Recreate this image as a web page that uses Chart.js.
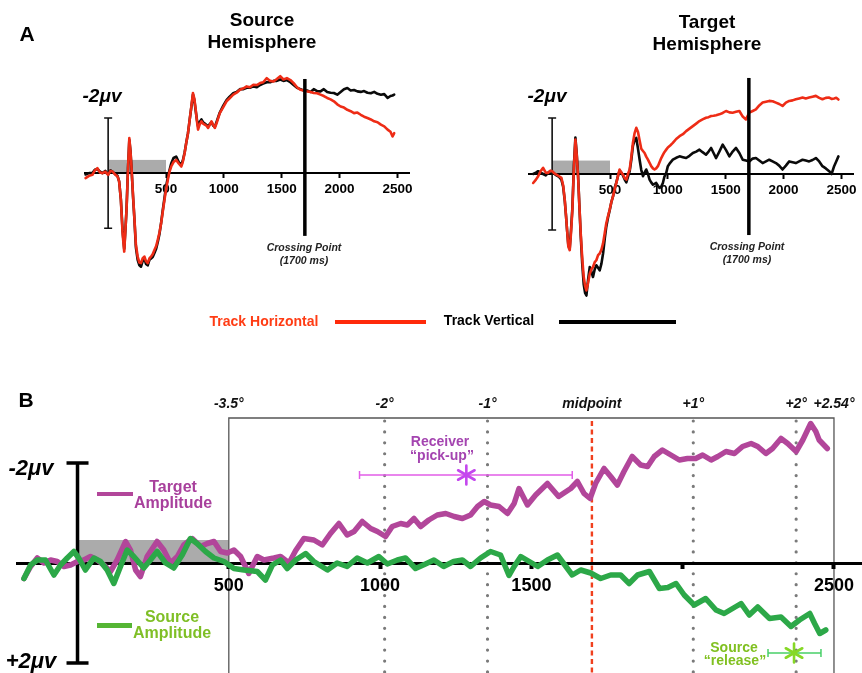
<!DOCTYPE html>
<html><head><meta charset="utf-8"><title>ERP crossing figure</title>
<script src="https://cdn.jsdelivr.net/npm/chart.js@4.4.1/dist/chart.umd.min.js"></script>
<style>
html,body{margin:0;padding:0;background:#fff;}
#wrap{position:relative;width:862px;height:673px;overflow:hidden;font-family:"Liberation Sans",Arial,Helvetica,sans-serif;color:#000;}
#wrap canvas{position:absolute;left:0;top:0;}
.t{position:absolute;white-space:nowrap;transform:translate(-50%,-50%);font-weight:bold;line-height:1;}
.i{font-style:italic;}
.sw{position:absolute;}
</style></head><body>
<div id="wrap">
<canvas id="cA1" width="862" height="673"></canvas>
<canvas id="cA2" width="862" height="673"></canvas>
<canvas id="cB" width="862" height="673"></canvas>

<div class="t" style="left:27px;top:33px;font-size:21px">A</div>
<div class="t" style="left:262px;top:19px;font-size:19px">Source</div>
<div class="t" style="left:262px;top:41px;font-size:19px">Hemisphere</div>
<div class="t" style="left:707px;top:21px;font-size:19px">Target</div>
<div class="t" style="left:707px;top:43px;font-size:19px">Hemisphere</div>
<div class="t i" style="left:102px;top:95px;font-size:19px">-2μv</div>
<div class="t i" style="left:547px;top:95px;font-size:19px">-2μv</div>
<div class="t i" style="left:304px;top:247px;font-size:10.5px;color:#222">Crossing Point</div>
<div class="t i" style="left:304px;top:260px;font-size:10.5px;color:#222">(1700 ms)</div>
<div class="t i" style="left:747px;top:246px;font-size:10.5px;color:#222">Crossing Point</div>
<div class="t i" style="left:747px;top:259px;font-size:10.5px;color:#222">(1700 ms)</div>
<div class="t" style="left:264px;top:321px;font-size:14px;color:#ff3c14">Track Horizontal</div>
<div class="sw" style="left:335px;top:320px;width:91px;height:4px;background:#ff2a0a"></div>
<div class="t" style="left:489px;top:320px;font-size:14px;color:#000">Track Vertical</div>
<div class="sw" style="left:559px;top:320px;width:117px;height:4px;background:#000"></div>

<div class="t" style="left:26px;top:399px;font-size:21px">B</div>
<div class="t i" style="left:31px;top:468px;font-size:22px">-2μv</div>
<div class="t i" style="left:31px;top:661px;font-size:22px">+2μv</div>
<div class="sw" style="left:97px;top:492px;width:36px;height:4px;background:#b2469a"></div>
<div class="t" style="left:173px;top:487px;font-size:16px;color:#a8409c">Target</div>
<div class="t" style="left:173px;top:503px;font-size:16px;color:#a8409c">Amplitude</div>
<div class="sw" style="left:97px;top:623px;width:35px;height:5px;background:#55b534"></div>
<div class="t" style="left:172px;top:617px;font-size:16px;color:#7fbf26">Source</div>
<div class="t" style="left:172px;top:633px;font-size:16px;color:#7fbf26">Amplitude</div>
<div class="t" style="left:440px;top:441px;font-size:14px;color:#a444b0">Receiver</div>
<div class="t" style="left:442px;top:455px;font-size:14px;color:#a444b0">“pick-up”</div>
<div class="t" style="left:734px;top:647px;font-size:14px;color:#80c020">Source</div>
<div class="t" style="left:735px;top:660px;font-size:14px;color:#80c020">“release”</div>
</div>
<script>
// ---------------- DATA ----------------
// Panel A, Source hemisphere (time in ms, amplitude in microvolts; negative plotted up)
const srcTime = [
 -195,-165,-136,-115,-93,-70,-49,-25,0,20,
 38,60,81,95,110,125,139,150,159,172,
 183,193,203,215,226,240,255,270,284,298,
 313,327,342,357,371,385,400,415,429,444,
 458,472,487,500,516,530,545,565,588,610,
 632,645,661,675,690,705,719,733,745,757,
 767,777,790,806,820,835,850,864,878,893,
 908,922,940,965,995,1023,1050,1081,1110,1139,
 1170,1197,1225,1255,1285,1313,1340,1371,1400,1429,
 1458,1487,1515,1545,1575,1603,1632,1661,1690,1719,
 1748,1777,1806,1835,1864,1893,1922,1951,1980,2009,
 2038,2067,2096,2125,2154,2183,2212,2241,2270,2299,
 2328,2357,2386,2415,2440,2458,2472];
const srcHorizontal = [
 0.18,0.1,0.06,-0.1,-0.18,-0.02,0,-0.05,0.06,-0.08,
 -0.06,0.05,0.12,0.3,0.97,2.2,2.85,2.0,1.33,-0.2,
 -1.27,-0.8,-0.12,0.8,1.58,2.6,3.03,3.25,3.27,3.1,
 3.03,3.2,3.27,3.1,3.03,2.95,2.79,2.65,2.42,2.15,
 1.82,1.4,0.97,0.6,0.24,-0.05,-0.24,-0.4,-0.48,-0.35,
 -0.24,-0.4,-0.73,-1.1,-1.45,-1.95,-2.42,-2.91,-2.7,-2.3,
 -1.9,-1.58,-1.75,-1.88,-1.8,-1.76,-1.72,-1.64,-1.75,-1.88,
 -1.75,-1.64,-1.85,-2.18,-2.4,-2.61,-2.72,-2.85,-2.92,-3.03,
 -3.08,-3.15,-3.12,-3.21,-3.2,-3.27,-3.3,-3.45,-3.35,-3.33,
 -3.42,-3.52,-3.4,-3.45,-3.38,-3.27,-3.12,-3.03,-3.0,-2.97,
 -2.95,-2.91,-2.9,-2.85,-2.8,-2.73,-2.68,-2.61,-2.5,-2.42,
 -2.38,-2.3,-2.25,-2.18,-2.2,-2.12,-2.05,-2.0,-1.95,-1.88,
 -1.85,-1.76,-1.7,-1.58,-1.5,-1.33,-1.45];
const srcVertical = [
 0.05,0,0,-0.12,-0.15,-0.05,0,-0.08,0.05,-0.1,
 -0.05,0.03,0.1,0.3,0.95,2.1,2.75,2.0,1.3,-0.2,
 -1.2,-0.8,-0.1,0.85,1.6,2.7,3.15,3.35,3.4,3.2,
 3.1,3.3,3.35,3.15,3.1,3.05,2.9,2.75,2.5,2.2,
 1.8,1.35,0.9,0.5,0.15,-0.1,-0.35,-0.55,-0.6,-0.4,
 -0.3,-0.45,-0.75,-1.1,-1.45,-1.95,-2.4,-2.85,-2.65,-2.25,
 -1.95,-1.7,-1.85,-1.95,-1.85,-1.8,-1.75,-1.7,-1.78,-1.85,
 -1.72,-1.68,-1.9,-2.2,-2.45,-2.65,-2.78,-2.9,-2.95,-3.05,
 -3.05,-3.1,-3.1,-3.15,-3.12,-3.2,-3.25,-3.3,-3.3,-3.35,
 -3.35,-3.4,-3.35,-3.38,-3.3,-3.2,-3.1,-3.05,-3.0,-3.0,
 -2.95,-3.05,-2.98,-2.97,-3.05,-2.95,-2.92,-2.91,-2.85,-2.95,
 -3.05,-3.09,-3.0,-3.02,-2.97,-2.95,-2.98,-2.92,-2.9,-2.95,
 -2.88,-2.85,-2.87,-2.73,-2.8,-2.82,-2.85];

// Panel A, Target hemisphere
const tgtTime = [
 -164,-140,-121,-100,-78,-55,-34,-15,0,20,
 37,60,80,95,109,120,129,140,152,163,
 175,188,201,212,224,235,247,260,273,285,
 296,310,325,340,353,368,382,397,411,426,
 440,455,468,483,497,512,526,540,555,570,
 583,598,612,627,641,655,670,684,698,712,
 727,742,756,770,785,799,813,828,842,856,
 871,885,899,914,928,943,957,970,986,1000,
 1020,1043,1072,1101,1130,1158,1187,1216,1245,1273,
 1300,1330,1352,1374,1395,1417,1445,1474,1503,1532,
 1560,1589,1618,1647,1675,1704,1733,1761,1790,1819,
 1848,1876,1905,1934,1962,1991,2020,2049,2078,2106,
 2135,2164,2192,2221,2250,2279,2308,2336,2365,2394,
 2415,2437,2455,2474];
const tgtHorizontal = [
 0.32,0.2,0.08,-0.1,-0.22,-0.05,-0.04,-0.12,-0.1,-0.02,
 0.02,0.08,0.14,0.4,0.92,1.5,2.0,2.6,2.72,2.1,
 1.28,-0.2,-1.23,-0.7,0.08,1.1,2.12,3.0,3.68,4.0,
 4.16,3.9,3.56,3.4,3.32,3.15,3.08,2.9,2.84,2.7,
 2.48,2.1,1.76,1.5,1.28,1.0,0.8,0.55,0.32,0.05,
 -0.16,-0.05,0.02,0.15,0.2,0,-0.16,-0.6,-1.11,-1.45,
 -1.65,-1.5,-1.2,-0.9,-0.82,-0.75,-0.62,-0.51,-0.4,-0.28,
 -0.2,-0.16,-0.2,-0.28,-0.42,-0.57,-0.68,-0.78,-0.87,-0.95,
 -1.02,-1.11,-1.25,-1.35,-1.42,-1.53,-1.62,-1.71,-1.8,-1.89,
 -1.95,-2.01,-2.03,-2.07,-2.08,-2.1,-2.13,-2.18,-2.25,-2.2,
 -2.19,-2.22,-2.25,-2.05,-1.95,-2.19,-2.25,-2.31,-2.45,-2.55,
 -2.58,-2.61,-2.6,-2.55,-2.5,-2.43,-2.55,-2.61,-2.63,-2.67,
 -2.7,-2.73,-2.7,-2.73,-2.76,-2.79,-2.72,-2.67,-2.72,-2.73,
 -2.68,-2.7,-2.72,-2.66];
const tgtVertical = [
 0,-0.05,-0.1,-0.05,0,0.05,-0.05,-0.1,-0.08,0,
 0.05,0.1,0.2,0.45,0.95,1.5,2.0,2.55,2.65,2.0,
 1.2,-0.3,-1.3,-0.75,0.05,1.1,2.2,3.2,3.95,4.25,
 4.34,3.8,3.32,3.5,3.68,3.4,3.26,3.35,3.44,3.2,
 2.84,2.3,1.88,1.55,1.3,1.0,0.8,0.5,0.3,0.05,
 -0.12,-0.05,0.05,0.2,0.3,0.1,-0.1,-0.5,-1.0,-1.2,
 -1.29,-0.9,-0.51,-0.15,0.08,-0.05,-0.16,0,0.2,0.3,
 0.38,0.35,0.32,0.42,0.5,0.45,0.32,0.1,-0.04,-0.28,
 -0.4,-0.51,-0.58,-0.63,-0.6,-0.57,-0.65,-0.75,-0.8,-0.87,
 -0.78,-0.69,-0.8,-0.93,-0.75,-0.57,-0.8,-1.05,-0.85,-0.63,
 -0.8,-0.93,-0.75,-0.51,-0.48,-0.45,-0.55,-0.57,-0.48,-0.39,
 -0.45,-0.51,-0.45,-0.39,-0.3,-0.16,-0.3,-0.45,-0.42,-0.39,
 -0.45,-0.51,-0.48,-0.45,-0.5,-0.57,-0.45,-0.28,-0.2,-0.1,
 0,-0.28,-0.45,-0.63];

// Panel A annotations
const aTickValues = [500, 1000, 1500, 2000, 2500];
const aTickLabels = ['500', '1000', '1500', '2000', '2500'];
const crossingTime = 1700;
const crossSpanSource = [-3.42, 2.28];
const crossSpanTarget = [-3.43, 2.18];
const baselineWindow = [0, 500];
const baselineDepthA = -0.48;
const scaleBar = [-2, 2];

// Panel B, amplitude difference waves
const targetAmpTime = [
 -177,-155,-133,-111,-89,-67,-45,-23,0,21,
 43,65,87,109,131,159,175,192,208,230,
 263,285,307,330,351,379,407,429,451,473,
 495,517,539,566,594,616,649,671,699,721,
 748,781,809,836,864,891,914,941,969,991,
 1018,1040,1068,1090,1112,1134,1161,1189,1217,1245,
 1272,1299,1322,1344,1365,1393,1421,1443,1459,1487,
 1514,1553,1590,1630,1652,1674,1694,1712,1740,1762,
 1784,1806,1833,1861,1884,1906,1933,1961,1989,2016,
 2043,2066,2094,2116,2143,2171,2198,2226,2248,2275,
 2297,2325,2347,2375,2397,2423,2440,2451,2478];
const targetAmp = [
 0.31,0.07,-0.1,0,-0.06,-0.03,0.07,0.04,-0.03,-0.06,
 -0.13,-0.06,0.04,0.17,-0.06,-0.43,-0.26,0.14,0.27,-0.13,
 -0.43,-0.26,0,-0.13,-0.36,-0.49,-0.33,-0.39,-0.43,-0.23,
 -0.2,-0.26,-0.13,0.21,-0.13,-0.06,-0.1,-0.13,0,-0.25,
 -0.49,-0.46,-0.36,-0.59,-0.79,-0.56,-0.63,-0.83,-0.69,-0.63,
 -0.53,-0.73,-0.79,-0.76,-0.89,-0.73,-0.86,-0.96,-0.99,-0.93,
 -0.89,-0.96,-1.13,-1.23,-1.16,-1.13,-0.99,-1.19,-1.49,-1.16,
 -1.36,-1.59,-1.33,-1.49,-1.63,-1.39,-1.29,-1.59,-1.89,-1.73,
 -1.56,-1.83,-2.13,-1.96,-1.93,-2.13,-2.26,-2.16,-2.06,-2.09,
 -2.09,-2.16,-2.06,-2.13,-2.23,-2.19,-2.33,-2.39,-2.33,-2.19,
 -2.29,-2.49,-2.39,-2.23,-2.46,-2.79,-2.63,-2.46,-2.29];
const sourceAmpTime = [
 -177,-155,-133,-106,-78,-56,-34,-12,4,26,
 54,76,98,120,142,164,186,219,241,263,
 291,318,346,373,395,423,451,484,517,550,
 594,621,644,671,693,721,754,781,826,858,
 891,924,958,996,1024,1057,1084,1117,1150,1178,
 1210,1243,1272,1299,1332,1365,1398,1426,1443,1465,
 1493,1521,1553,1586,1608,1635,1663,1696,1729,1762,
 1795,1823,1851,1890,1923,1951,1978,2005,2038,2076,
 2110,2137,2165,2193,2220,2248,2287,2325,2358,2386,
 2420,2436,2453,2473];
const sourceAmp = [
 0.31,0.04,-0.06,-0.06,0.24,0.04,-0.1,-0.23,-0.1,0.14,
 -0.1,-0.03,0.14,0.41,0.07,-0.26,-0.13,0.1,-0.06,-0.23,
 0,0.1,-0.16,-0.49,-0.39,-0.23,-0.1,-0.03,0.11,0.14,
 0.17,0.34,0.04,-0.06,0.11,-0.06,-0.19,-0.03,0.14,0,
 0.07,-0.1,0,-0.13,0.02,-0.06,-0.1,0.11,0.02,-0.06,
 0.07,-0.03,-0.06,0.07,-0.1,-0.23,-0.16,0.25,0.07,-0.13,
 -0.03,0.07,-0.06,-0.16,0.02,0.24,0.14,0.2,0.31,0.24,
 0.24,0.41,0.24,0.17,0.51,0.49,0.41,0.64,0.84,0.71,
 0.94,1.01,0.91,0.81,1.04,0.88,1.11,1.08,1.27,1.14,
 1.01,1.21,1.41,1.34];

// Panel B annotations
const bTickValues = [500, 1000, 1500, 2000, 2500];
const bTickLabels = ['500', '1000', '1500', '', '2500'];
const degreeTimes = [500, 1015, 1355, 1700, 2035, 2375, 2500];
const degreeLabels = ['-3.5°', '-2°', '-1°', 'midpoint', '+1°', '+2°', '+2.54°'];
const frameTop = -2.9;
const baselineDepthB = -0.46;
const pickupStats = [932, 1285, 1635];   // lower, estimate, upper (ms)
const pickupLevel = -1.76;
const releaseStats = [2282, 2368, 2457];
const releaseLevel = 1.8;

// ---------------- CHARTS ----------------
const FONT = '"Liberation Sans", Arial, Helvetica, sans-serif';
const RED = '#ee2c16', BLACK = '#0a0a0a', PURPLE = '#b2469a', GREEN = '#2ca848';

function pts(ts, vs) { return ts.map((t, i) => ({x: t, y: vs[i]})); }
function lineDs(label, ts, vs, color, w) {
  return {label, data: pts(ts, vs), borderColor: color, backgroundColor: color, borderWidth: w,
    pointRadius: 0, pointHoverRadius: 0, tension: 0, fill: false, clip: false,
    borderJoinStyle: 'round', borderCapStyle: 'round'};
}

const panelAPlugin = {
  id: 'panelA',
  beforeDraw(chart) {
    const {ctx} = chart, xs = chart.scales.x, ys = chart.scales.y;
    ctx.save();
    ctx.fillStyle = '#ababab';
    const x0 = xs.getPixelForValue(baselineWindow[0]), x1 = xs.getPixelForValue(baselineWindow[1]);
    const y0 = ys.getPixelForValue(baselineDepthA), y1 = ys.getPixelForValue(0);
    ctx.fillRect(x0, y0, x1 - x0, y1 - y0);
    ctx.restore();
  },
  beforeDatasetsDraw(chart) {
    const {ctx} = chart, xs = chart.scales.x, ys = chart.scales.y;
    ctx.save();
    const sx = xs.getPixelForValue(0);
    const st = ys.getPixelForValue(scaleBar[0]), sb = ys.getPixelForValue(scaleBar[1]);
    ctx.strokeStyle = '#111'; ctx.lineWidth = 1.6;
    ctx.beginPath();
    ctx.moveTo(sx, st); ctx.lineTo(sx, sb);
    ctx.moveTo(sx - 4, st); ctx.lineTo(sx + 4, st);
    ctx.moveTo(sx - 4, sb); ctx.lineTo(sx + 4, sb);
    ctx.stroke();
    ctx.restore();
  },
  afterDatasetsDraw(chart, args, opts) {
    const {ctx} = chart, xs = chart.scales.x, ys = chart.scales.y;
    ctx.save();
    ctx.strokeStyle = '#000'; ctx.lineWidth = 3.5;
    const cx = xs.getPixelForValue(crossingTime);
    ctx.beginPath();
    ctx.moveTo(cx, ys.getPixelForValue(opts.span[0]));
    ctx.lineTo(cx, ys.getPixelForValue(opts.span[1]));
    ctx.stroke();
    ctx.restore();
  }
};

function xAxisA() {
  return {
    type: 'linear', min: -200, max: 2600, position: {y: 0},
    afterFit: s => { s.height = 0; },
    afterBuildTicks: s => { s.ticks = aTickValues.map(v => ({value: v})); },
    border: {display: true, color: '#000', width: 2},
    grid: {display: true, drawOnChartArea: false, drawTicks: true, tickLength: 4, tickWidth: 2, tickColor: '#000'},
    ticks: {autoSkip: false, maxRotation: 0, padding: 4, color: '#000',
      font: {family: FONT, size: 13.5, weight: 'bold'}, callback: (v, i) => aTickLabels[i]}
  };
}

function makeA(id, pad, ts, hv, vv, span) {
  return new Chart(document.getElementById(id), {
    type: 'line',
    data: {datasets: [lineDs('Track Horizontal', ts, hv, RED, 2.6), lineDs('Track Vertical', ts, vv, BLACK, 2.6)]},
    options: {
      responsive: false, animation: false, events: [],
      layout: {padding: pad},
      plugins: {legend: {display: false}, tooltip: {enabled: false}, title: {display: false}, panelA: {span}},
      scales: {x: xAxisA(), y: {type: 'linear', min: -4, max: 4.5, reverse: true, display: false}}
    },
    plugins: [panelAPlugin]
  });
}

makeA('cA1', {left: 85, top: 63, right: 453, bottom: 376}, srcTime, srcHorizontal, srcVertical, crossSpanSource);
makeA('cA2', {left: 529, top: 62, right: 9, bottom: 373}, tgtTime, tgtHorizontal, tgtVertical, crossSpanTarget);

function asterisk(ctx, x, y, r, color, lw) {
  ctx.strokeStyle = color; ctx.lineWidth = lw; ctx.lineCap = 'round';
  ctx.beginPath();
  for (let k = 0; k < 3; k++) {
    const a = Math.PI / 2 + k * Math.PI / 3;
    ctx.moveTo(x + r * Math.cos(a), y + r * Math.sin(a));
    ctx.lineTo(x - r * Math.cos(a), y - r * Math.sin(a));
  }
  ctx.stroke();
}
function errBar(ctx, x0, x1, y, cap, color, lw) {
  ctx.strokeStyle = color; ctx.lineWidth = lw; ctx.lineCap = 'butt';
  ctx.beginPath();
  ctx.moveTo(x0, y); ctx.lineTo(x1, y);
  ctx.moveTo(x0, y - cap); ctx.lineTo(x0, y + cap);
  ctx.moveTo(x1, y - cap); ctx.lineTo(x1, y + cap);
  ctx.stroke();
}

const panelBPlugin = {
  id: 'panelB',
  beforeDraw(chart) {
    const {ctx, chartArea} = chart, xs = chart.scales.x, ys = chart.scales.y;
    ctx.save();
    // baseline window
    const bx0 = xs.getPixelForValue(baselineWindow[0]), bx1 = xs.getPixelForValue(baselineWindow[1]);
    const by0 = ys.getPixelForValue(baselineDepthB), by1 = ys.getPixelForValue(0);
    ctx.fillStyle = '#ababab';
    ctx.fillRect(bx0, by0, bx1 - bx0, by1 - by0);
    // frame
    const fTop = ys.getPixelForValue(frameTop);
    const fx0 = xs.getPixelForValue(degreeTimes[0]), fx1 = xs.getPixelForValue(degreeTimes[degreeTimes.length - 1]);
    ctx.strokeStyle = '#555'; ctx.lineWidth = 1.3;
    ctx.beginPath();
    ctx.moveTo(fx0, chartArea.bottom + 2); ctx.lineTo(fx0, fTop); ctx.lineTo(fx1, fTop); ctx.lineTo(fx1, chartArea.bottom + 2);
    ctx.stroke();
    // position lines
    for (let i = 1; i < degreeTimes.length - 1; i++) {
      const px = xs.getPixelForValue(degreeTimes[i]);
      ctx.beginPath();
      if (degreeLabels[i] === 'midpoint') {
        ctx.strokeStyle = '#f0401e'; ctx.lineWidth = 2.4; ctx.lineCap = 'butt'; ctx.setLineDash([5, 3.5]);
      } else {
        ctx.strokeStyle = '#7a7a7a'; ctx.lineWidth = 3.2; ctx.lineCap = 'round'; ctx.setLineDash([0.01, 10.9]);
      }
      ctx.moveTo(px, fTop + 3); ctx.lineTo(px, chartArea.bottom);
      ctx.stroke();
    }
    ctx.restore();
  },
  beforeDatasetsDraw(chart) {
    const {ctx} = chart, xs = chart.scales.x, ys = chart.scales.y;
    ctx.save();
    const sx = xs.getPixelForValue(0);
    const st = ys.getPixelForValue(scaleBar[0]), sb = ys.getPixelForValue(scaleBar[1]);
    ctx.strokeStyle = '#000'; ctx.lineWidth = 3.5;
    ctx.beginPath();
    ctx.moveTo(sx, st); ctx.lineTo(sx, sb);
    ctx.moveTo(sx - 11, st); ctx.lineTo(sx + 11, st);
    ctx.moveTo(sx - 11, sb); ctx.lineTo(sx + 11, sb);
    ctx.stroke();
    ctx.restore();
  },
  afterDatasetsDraw(chart) {
    const {ctx, chartArea} = chart, xs = chart.scales.x, ys = chart.scales.y;
    ctx.save();
    // position labels
    ctx.fillStyle = '#111';
    ctx.font = 'italic bold 14px ' + FONT;
    ctx.textAlign = 'center'; ctx.textBaseline = 'middle';
    degreeTimes.forEach((t, i) => {
      ctx.fillText(degreeLabels[i], xs.getPixelForValue(t), chartArea.top + 1);
    });
    // receiver pick-up
    const py = ys.getPixelForValue(pickupLevel);
    errBar(ctx, xs.getPixelForValue(pickupStats[0]), xs.getPixelForValue(pickupStats[2]), py, 4, '#e25ee8', 1.5);
    asterisk(ctx, xs.getPixelForValue(pickupStats[1]), py, 9.5, '#c447ee', 2.6);
    // source release
    const ry = ys.getPixelForValue(releaseLevel);
    errBar(ctx, xs.getPixelForValue(releaseStats[0]), xs.getPixelForValue(releaseStats[2]), ry, 4, '#48d068', 1.5);
    asterisk(ctx, xs.getPixelForValue(releaseStats[1]), ry, 9.5, '#86d826', 2.6);
    ctx.restore();
  }
};

new Chart(document.getElementById('cB'), {
  type: 'line',
  data: {datasets: [
    lineDs('Source Amplitude', sourceAmpTime, sourceAmp, GREEN, 5.5),
    lineDs('Target Amplitude', targetAmpTime, targetAmp, PURPLE, 5.5)
  ]},
  options: {
    responsive: false, animation: false, events: [],
    layout: {padding: {left: 17, top: 403, right: 0, bottom: 0}},
    plugins: {legend: {display: false}, tooltip: {enabled: false}, title: {display: false}},
    scales: {
      x: {
        type: 'linear', min: -200, max: 2590, position: {y: 0},
        afterFit: s => { s.height = 0; },
        afterBuildTicks: s => { s.ticks = bTickValues.map(v => ({value: v})); },
        border: {display: true, color: '#000', width: 3},
        grid: {display: true, drawOnChartArea: false, drawTicks: true, tickLength: 4, tickWidth: 4, tickColor: '#000'},
        ticks: {autoSkip: false, maxRotation: 0, padding: 8, color: '#000',
          font: {family: FONT, size: 18, weight: 'bold'}, callback: (v, i) => bTickLabels[i]}
      },
      y: {type: 'linear', min: -3.2, max: 2.2, reverse: true, display: false}
    }
  },
  plugins: [panelBPlugin]
});
</script>
</body></html>
